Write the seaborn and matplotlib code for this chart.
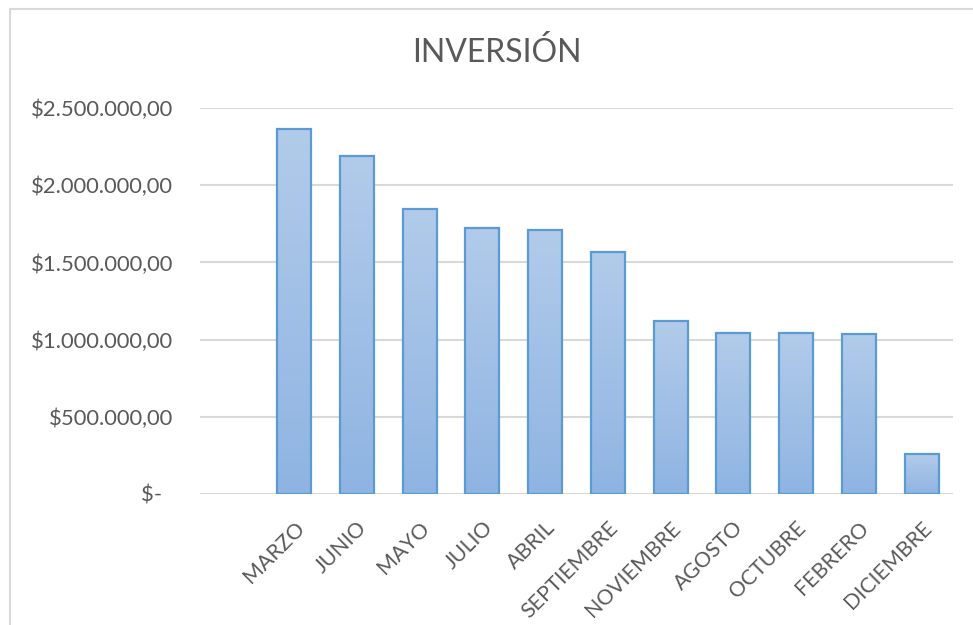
import numpy as np
import pandas as pd
import seaborn as sns
import matplotlib.pyplot as plt
from matplotlib.patches import Rectangle

# data (sorted high to low)
meses = ['MARZO', 'JUNIO', 'MAYO', 'JULIO', 'ABRIL', 'SEPTIEMBRE',
         'NOVIEMBRE', 'AGOSTO', 'OCTUBRE', 'FEBRERO', 'DICIEMBRE']
inversion = [2364000, 2191000, 1846000, 1723000, 1710000, 1567000,
             1120000, 1043000, 1042000, 1034000, 257000]
# the original has an empty first category slot
orden = [''] + meses
yticks = [0, 500000, 1000000, 1500000, 2000000, 2500000]
ylabels = ['$-  ', '$500.000,00', '$1.000.000,00', '$1.500.000,00',
           '$2.000.000,00', '$2.500.000,00']

df = pd.DataFrame({'mes': meses, 'inversion': inversion})

sns.set_style("white")
plt.rcParams['font.family'] = ['Lato', 'DejaVu Sans']
gris = '#595959'

fig = plt.figure(figsize=(9.73, 6.25), dpi=100)
ax = fig.add_axes([200 / 973, 1 - 494 / 625, 753 / 973, 386 / 625])

sns.barplot(data=df, x='mes', y='inversion', order=orden, width=0.54,
            color='#9dbde6', edgecolor='#5b9bd5', linewidth=1.6, ax=ax,
            zorder=3)

ax.set_ylim(0, 2500000)
ax.set_xlim(-0.5, len(orden) - 0.5)

# gradient fill like the Excel style
grad = np.linspace(0, 1, 256).reshape(-1, 1)
top = np.array([178, 203, 234]) / 255
bot = np.array([143, 180, 226]) / 255
img = top + (bot - top) * grad[..., None].reshape(256, 1, 1)
for p in ax.patches:
    x0, y0 = p.get_x(), p.get_y()
    w, h = p.get_width(), p.get_height()
    if not np.isfinite(h) or h == 0:
        continue
    im = ax.imshow(img, extent=[x0, x0 + w, y0, y0 + h], aspect='auto',
                   origin='upper', zorder=2.5)
    im.set_clip_path(p)
    p.set_facecolor('none')

ax.set_yticks(yticks)
ax.set_yticklabels(ylabels)
ax.yaxis.grid(True, color='#d9d9d9', linewidth=1.5, zorder=0)
ax.set_axisbelow(True)
for s in ax.spines.values():
    s.set_visible(False)
ax.tick_params(axis='y', length=0, pad=19.5, labelsize=15.8, labelcolor=gris)
ax.tick_params(axis='x', length=0, pad=17, labelsize=15.3, labelcolor=gris)
plt.setp(ax.get_xticklabels(), rotation=45, ha='right', rotation_mode='anchor')
ax.set_xlabel('')
ax.set_ylabel('')

fig.text(497 / 973, 1 - 52 / 625, 'INVERSIÓN', ha='center', va='center',
         fontsize=23, color=gris)

# chart area border
fig.patches.append(Rectangle((10 / 973, -0.2), 1.2, 1.2 - 9 / 625 + 0.0,
                             transform=fig.transFigure, fill=False,
                             edgecolor='#d9d9d9', linewidth=1.5))

plt.savefig('out.png', dpi=100)
